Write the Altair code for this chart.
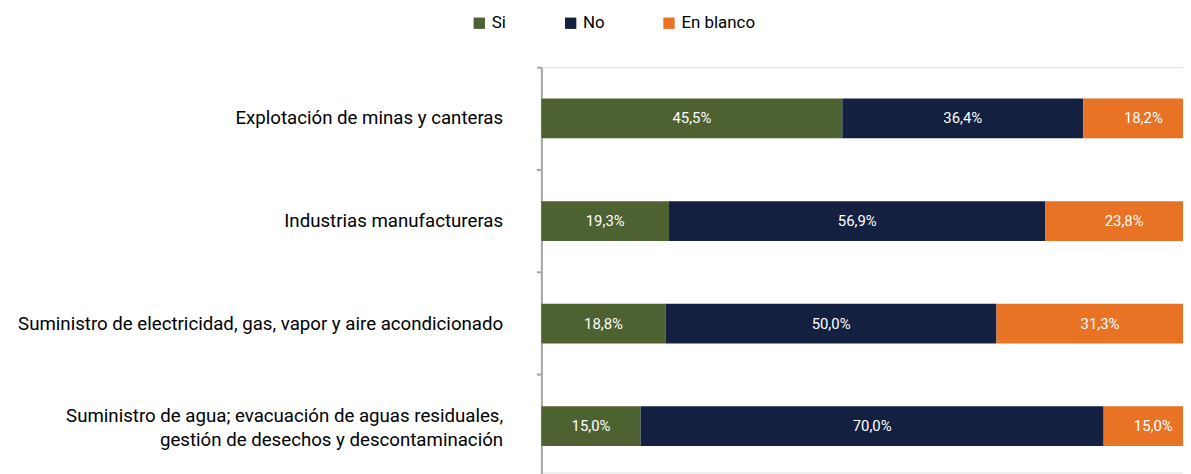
import altair as alt
import pandas as pd

sectores = [
    "Explotación de minas y canteras",
    "Industrias manufactureras",
    "Suministro de electricidad, gas, vapor y aire acondicionado",
    "Suministro de agua; evacuación de aguas residuales,|gestión de desechos y descontaminación",
]
respuestas = ["Si", "No", "En blanco"]
colores = ["#4E6130", "#13203F", "#E87324"]

si = [45.5, 19.3, 18.8, 15.0]
no = [36.4, 56.9, 50.0, 70.0]
blanco = [18.2, 23.8, 31.3, 15.0]

rows = []
for i, s in enumerate(sectores):
    for r, vals in zip(respuestas, [si, no, blanco]):
        rows.append({"sector": s, "respuesta": r, "valor": vals[i],
                     "orden": respuestas.index(r),
                     "etiqueta": f"{vals[i]:.1f}%".replace(".", ",")})
df = pd.DataFrame(rows)

FONT = "Roboto"

y_enc = alt.Y("sector:N", sort=sectores, title=None,
              scale=alt.Scale(range=[0, 413], paddingInner=0, paddingOuter=0),
              axis=alt.Axis(labelExpr="split(datum.label, '|')",
                            labelFontSize=18.8, labelFont=FONT, labelColor="#000000",
                            labelPadding=34, labelLineHeight=25, labelLimit=600,
                            labelOffset={"condition": {"test": "indexof(datum.value, '|') >= 0",
                                                       "value": -10.5},
                                         "value": 0},
                            bandPosition=0,
                            tickSize=5, tickColor="#A6A6A6",
                            tickWidth=2, domainColor="#A6A6A6", domainWidth=2,
                            grid=False))

x_enc = alt.X("valor:Q", stack="zero", title=None,
              scale=alt.Scale(domain=[0, 100], range=[0, 666]),
              axis=None)

bars = alt.Chart(df).mark_bar(size=40).encode(
    y=y_enc,
    x=x_enc,
    color=alt.Color("respuesta:N", sort=respuestas,
                    scale=alt.Scale(domain=respuestas, range=colores),
                    legend=alt.Legend(title=None, orient="none", direction="horizontal",
                                      legendX=-71, legendY=-53,
                                      symbolType="square", symbolSize=130,
                                      symbolStrokeWidth=0, symbolOpacity=1,
                                      labelFont=FONT, labelFontSize=17,
                                      labelColor="#000000", labelOffset=4,
                                      columnPadding=56)),
    order=alt.Order("orden:Q"),
)

labels = alt.Chart(df).mark_text(color="white", font=FONT, fontSize=15).encode(
    y=alt.Y("sector:N", sort=sectores),
    x=alt.X("mid:Q", scale=alt.Scale(domain=[0, 100], range=[0, 666])),
    text="etiqueta:N",
).transform_window(
    cum="sum(valor)", groupby=["sector"], sort=[alt.SortField("orden")],
    frame=[None, 0]
).transform_calculate(mid="datum.cum - datum.valor / 2")

chart = alt.layer(bars, labels).properties(
    width=646, height=408,
    autosize=alt.AutoSizeParams(type="none"),
    padding={"left": 537, "top": 58, "right": 0, "bottom": 0},
).configure_view(stroke=None).configure(background="white")

chart.save("out.html", embed_options={"renderer": "svg", "actions": False})
